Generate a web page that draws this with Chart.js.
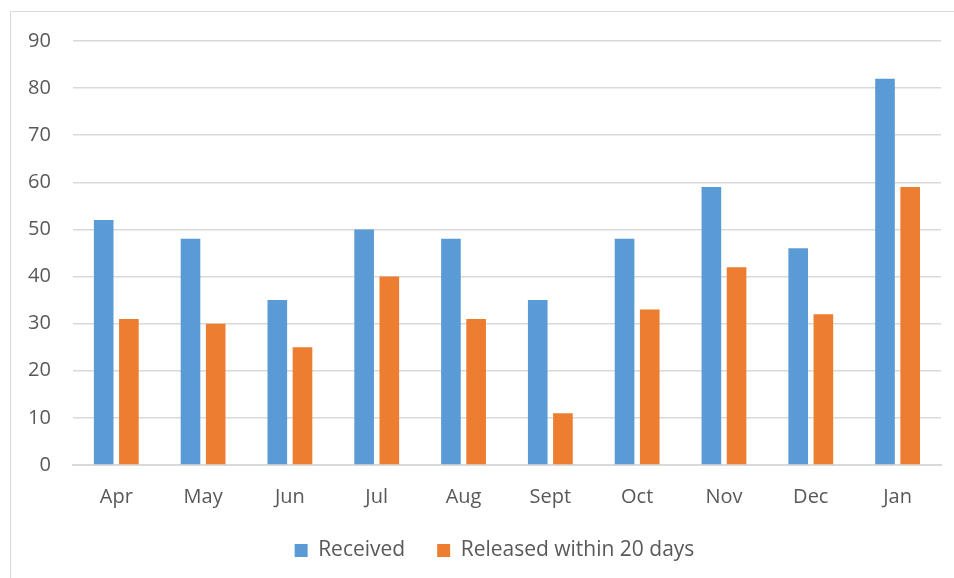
<!DOCTYPE html>
<html>
<head>
<meta charset="utf-8">
<script src="https://cdn.jsdelivr.net/npm/chart.js@4"></script>
<style>
  body { margin: 0; background: #fff; overflow: hidden; }
  #frame { position: absolute; left: 10px; top: 11px; width: 1000px; height: 700px; border: 1px solid #d9d9d9; }
  #wrap { position: absolute; left: 0; top: 0; width: 954px; height: 578px; }
</style>
</head>
<body>
<div id="frame"></div>
<div id="wrap"><canvas id="myChart"></canvas></div>
<script>
// monthly requests
var months = ["Apr", "May", "Jun", "Jul", "Aug", "Sept", "Oct", "Nov", "Dec", "Jan"]
var received = [52, 48, 35, 50, 48, 35, 48, 59, 46, 82]
var released = [31, 30, 25, 40, 31, 11, 33, 42, 32, 59]

var ctx = document.getElementById('myChart').getContext("2d")

// nudge the legend a bit right and up after layout
var legendShift = {
    id: "legendShift",
    afterLayout: function(chart) {
        var lg = chart.legend
        lg.left += 21
        lg.right += 21
        lg.top -= 13
        lg.bottom -= 13
    }
}

var data = {
    labels: months,
    datasets: [
        {
            label: "Received",
            data: received,
            backgroundColor: "#5b9bd5",
            categoryPercentage: 0.58,
            barPercentage: 0.78
        },
        {
            label: "Released within 20 days",
            data: released,
            backgroundColor: "#ed7d31",
            categoryPercentage: 0.58,
            barPercentage: 0.78
        }
    ]
}

var config = {
    type: "bar",
    data: data,
    plugins: [legendShift],
    options: {
        responsive: true,
        maintainAspectRatio: false,
        animation: false,
        layout: { padding: { left: 6, right: 13, top: 41, bottom: -6 } },
        plugins: {
            tooltip: { enabled: false },
            legend: {
                position: "bottom",
                labels: {
                    color: "#595959",
                    font: { family: "Open Sans", size: 21 },
                    boxWidth: 13,
                    boxHeight: 13,
                    padding: 32
                }
            }
        },
        scales: {
            x: {
                grid: { display: false },
                border: { color: "#d9d9d9", width: 2 },
                ticks: {
                    color: "#595959",
                    font: { family: "Open Sans", size: 20 },
                    padding: 12
                }
            },
            y: {
                min: 0,
                max: 90,
                grid: { color: "#d9d9d9", lineWidth: 1.5, drawTicks: false },
                border: { display: false },
                ticks: {
                    stepSize: 10,
                    color: "#595959",
                    font: { family: "Open Sans", size: 20 },
                    padding: 22
                }
            }
        }
    }
}
var myChart = new Chart(ctx, config)
</script>
</body>
</html>
